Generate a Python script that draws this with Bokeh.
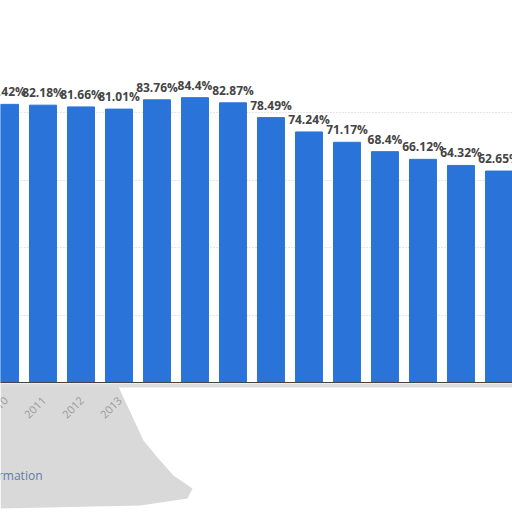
from bokeh.plotting import figure
from bokeh.models import ColumnDataSource, Range1d, FixedTicker, Label, PolyAnnotation, BoxAnnotation, Span
from bokeh.embed import file_html
from bokeh.resources import INLINE
from bokeh.core.properties import value
import math

years = [2010, 2011, 2012, 2013, 2014, 2015, 2016, 2017, 2018, 2019, 2020, 2021, 2022, 2023]
shares = [82.42, 82.18, 81.66, 81.01, 83.76, 84.4, 82.87, 78.49, 74.24, 71.17, 68.4, 66.12, 64.32, 62.65]
labels = ["82.42%", "82.18%", "81.66%", "81.01%", "83.76%", "84.4%", "82.87%", "78.49%",
          "74.24%", "71.17%", "68.4%", "66.12%", "64.32%", "62.65%"]
grid_ticks = [20, 40, 60, 80]
visible_year_labels = [2010, 2011, 2012, 2013]

src = ColumnDataSource(dict(x=years, y=shares, lab=labels))
ysrc = ColumnDataSource(dict(x=visible_year_labels, y=[0] * len(visible_year_labels),
                             lab=[str(y) for y in visible_year_labels]))

p = figure(width=512, height=512, output_backend="svg", toolbar_location=None,
           x_range=Range1d(2009.882, 2023.356), y_range=Range1d(-38.52, 113.19),
           min_border_left=0, min_border_right=0, min_border_top=0, min_border_bottom=0,
           background_fill_color="white", border_fill_color="white", outline_line_color=None)
p.xaxis.visible = False
p.yaxis.visible = False

# decorative grey smudge under the axis (screen units, measured up from the bottom)
smudge = PolyAnnotation(xs=[0, 117, 122, 130, 143, 157, 173, 192, 187, 140, 0],
                        ys=[128, 128, 117, 100, 72, 55, 37, 24, 14, 7, 4],
                        xs_units="screen", ys_units="screen",
                        fill_color="#d9d9d9", fill_alpha=1, line_color=None, level="underlay")
p.add_layout(smudge)
band = BoxAnnotation(left=0, right=512, top=129, bottom=125, left_units="screen", right_units="screen",
                     top_units="screen", bottom_units="screen", fill_color="#dcdcdc", fill_alpha=1,
                     line_color=None, level="underlay")
p.add_layout(band)

p.ygrid.ticker = FixedTicker(ticks=grid_ticks)
p.ygrid.grid_line_color = "#cccccc"
p.ygrid.grid_line_dash = "1 2"
p.xgrid.visible = False

p.vbar(x="x", top="y", width=0.71, source=src, color="#2a74d9")
p.text(x="x", y="y", text="lab", source=src, text_align="center", text_baseline="bottom",
       y_offset=-4, text_font=value("Open Sans"), text_font_style="bold",
       text_font_size="12px", text_color="#444444")

p.add_layout(Span(location=0, dimension="width", line_color="#444444", line_width=1))

p.text(x="x", y="y", text="lab", source=ysrc, angle=math.pi / 4, text_align="right",
       text_baseline="middle", x_offset=1, y_offset=16, text_font=value("Open Sans"),
       text_font_size="11px", text_color="#999999")

p.add_layout(Label(x=42, y=29, x_units="screen", y_units="screen", text="Additional Information",
                   text_align="right", text_font="Open Sans", text_font_size="12px",
                   text_color="#5b7fa6"))

open("out.html", "w").write(file_html(p, INLINE))
